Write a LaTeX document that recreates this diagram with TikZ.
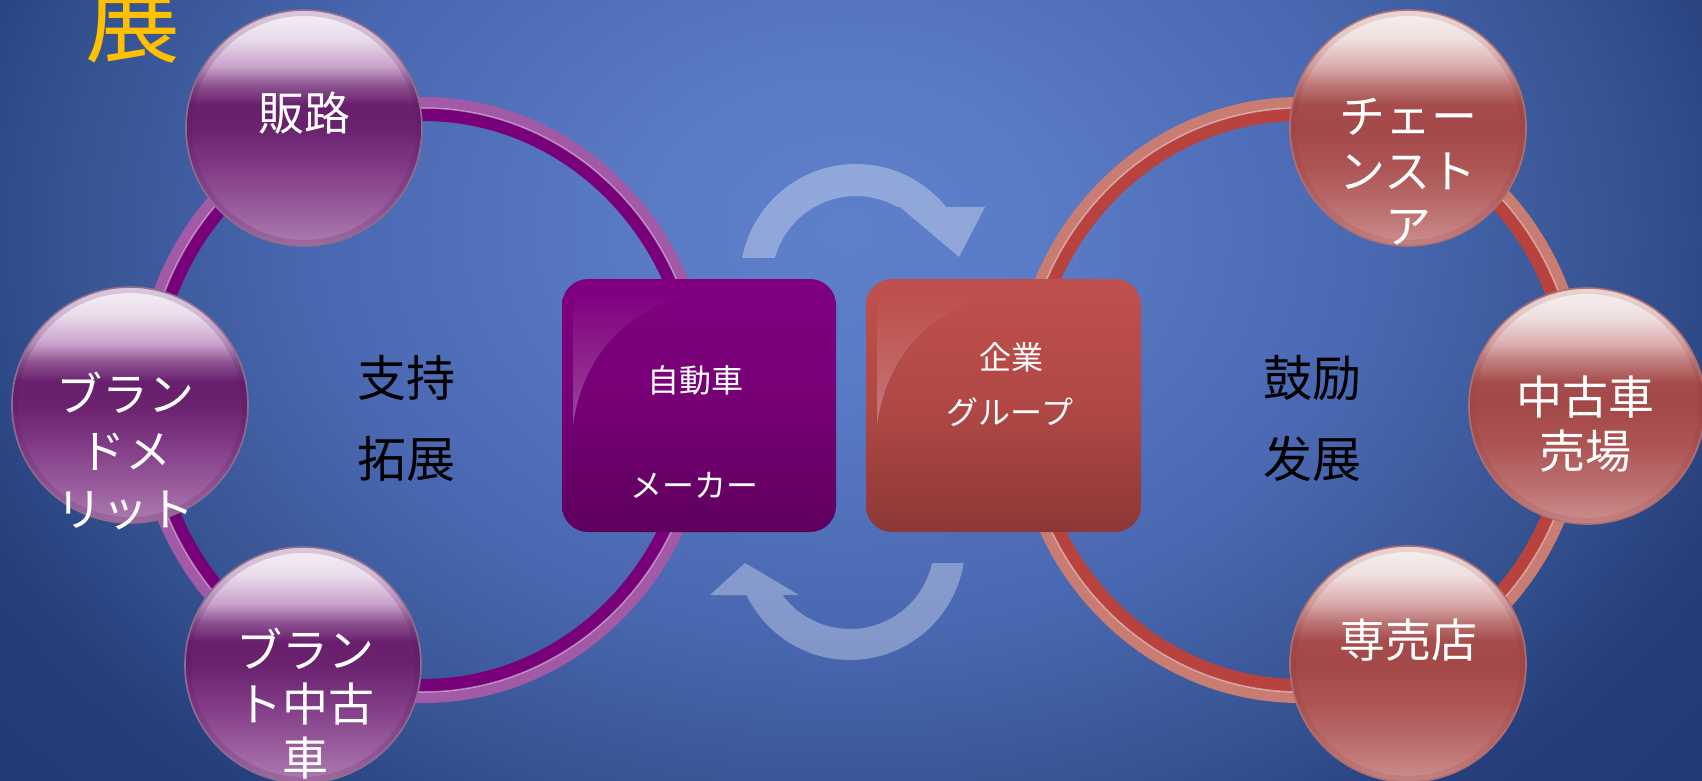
\documentclass[tikz,border=0pt]{standalone}
\usepackage{fontspec}
\newfontfamily\jp{Noto Sans CJK JP}
\usetikzlibrary{fadings}
\definecolor{ringPL}{HTML}{A35AA6}
\definecolor{ringPD}{HTML}{780078}
\definecolor{ringRL}{HTML}{C97C72}
\definecolor{ringRD}{HTML}{B8423E}
\definecolor{pbB}{HTML}{5C1460}
\definecolor{pbE}{HTML}{8C6E8E}
\definecolor{rbB}{HTML}{8E3636}
\definecolor{rbE}{HTML}{B07070}
\definecolor{pxA}{HTML}{800080}
\definecolor{pxB}{HTML}{760076}
\definecolor{pxC}{HTML}{5E005E}
\definecolor{rxA}{HTML}{C0504D}
\definecolor{rxB}{HTML}{B04845}
\definecolor{rxC}{HTML}{8C3836}
\definecolor{gold}{HTML}{FFC000}
% background: the inner 25bp radius maps to the path's bounding box edge
\pgfdeclareradialshading{bgrad}{\pgfpoint{0bp}{0bp}}{%
  color(0bp)=(rgb,255:red,94;green,128;blue,203);
  color(5bp)=(rgb,255:red,90;green,123;blue,198);
  color(14bp)=(rgb,255:red,74;green,104;blue,177);
  color(21bp)=(rgb,255:red,52;green,81;blue,143);
  color(25bp)=(rgb,255:red,38;green,62;blue,124);
  color(36bp)=(rgb,255:red,30;green,52;blue,112);
  color(50bp)=(rgb,255:red,30;green,52;blue,112)}
% balls: 25bp = bottom edge, 75bp = top edge
\pgfdeclareverticalshading{pballsh}{100bp}{%
  color(0bp)=(rgb,255:red,172;green,126;blue,174);
  color(25bp)=(rgb,255:red,172;green,126;blue,174);
  color(32bp)=(rgb,255:red,156;green,96;blue,160);
  color(42bp)=(rgb,255:red,128;green,58;blue,132);
  color(50bp)=(rgb,255:red,106;green,34;blue,110);
  color(55bp)=(rgb,255:red,104;green,32;blue,108);
  color(59bp)=(rgb,255:red,140;green,82;blue,144);
  color(63bp)=(rgb,255:red,200;green,162;blue,202);
  color(69bp)=(rgb,255:red,234;green,220;blue,236);
  color(75bp)=(rgb,255:red,246;green,240;blue,246);
  color(100bp)=(rgb,255:red,246;green,240;blue,246)}
\pgfdeclareverticalshading{rballsh}{100bp}{%
  color(0bp)=(rgb,255:red,204;green,144;blue,144);
  color(25bp)=(rgb,255:red,204;green,144;blue,144);
  color(32bp)=(rgb,255:red,190;green,114;blue,114);
  color(42bp)=(rgb,255:red,172;green,84;blue,84);
  color(50bp)=(rgb,255:red,164;green,72;blue,72);
  color(55bp)=(rgb,255:red,166;green,76;blue,76);
  color(59bp)=(rgb,255:red,188;green,118;blue,118);
  color(63bp)=(rgb,255:red,218;green,172;blue,172);
  color(69bp)=(rgb,255:red,240;green,224;blue,224);
  color(75bp)=(rgb,255:red,248;green,240;blue,240);
  color(100bp)=(rgb,255:red,248;green,240;blue,240)}
\tikzset{
  every node/.style={inner sep=0pt, outer sep=0pt},
  balltxt/.style={text=white, font=\jp\fontsize{46}{55}\selectfont, align=center},
  boxtxt/.style={text=white, font=\jp\fontsize{32}{38}\selectfont},
  sidetxt/.style={text=black, font=\jp\fontsize{49}{58}\selectfont},
  arrowfill/.style={fill=white, fill opacity=0.32},
  pball/.pic={
    \path[shading=pballsh] (0,0) circle[radius=118pt];
    \draw[pbB, line width=6pt, opacity=0.18] (0,0) circle[radius=115pt];
    \draw[pbE, line width=1.6pt] (0,0) circle[radius=118pt];
  },
  rball/.pic={
    \path[shading=rballsh] (0,0) circle[radius=118pt];
    \draw[rbB, line width=6pt, opacity=0.15] (0,0) circle[radius=115pt];
    \draw[rbE, line width=1.6pt] (0,0) circle[radius=118pt];
  },
}
\begin{document}
\begin{tikzpicture}[x=1pt,y=-1pt]
\useasboundingbox (0,0) rectangle (1702,781);
\clip (0,0) rectangle (1702,781);
% background
\path[shading=bgrad] (-104,-490) rectangle (1796,950);

% rings
\coordinate (lc) at (423,400);
\coordinate (rc) at (1300,400);
\draw[ringPL, line width=11pt] (lc) ellipse[x radius=283.5pt, y radius=297.5pt];
\draw[ringPD, line width=13pt] (lc) ellipse[x radius=271.5pt, y radius=285.5pt];
\draw[white, opacity=0.45, line width=1.5pt] (lc) ellipse[x radius=278pt, y radius=292pt];
\draw[ringRL, line width=11pt] (rc) ellipse[x radius=283.5pt, y radius=297.5pt];
\draw[ringRD, line width=13pt] (rc) ellipse[x radius=271.5pt, y radius=285.5pt];
\draw[white, opacity=0.45, line width=1.5pt] (rc) ellipse[x radius=278pt, y radius=292pt];

% cycle arrows
\coordinate (ctop) at (856,280);
\coordinate (cbot) at (850,545);
\fill[arrowfill] ([shift={(169:116pt)}]ctop) arc[start angle=169, end angle=39, radius=116pt]
  -- (985,207) -- (959,257) -- (900,207)
  -- ([shift={(60.3:84pt)}]ctop) arc[start angle=60.3, end angle=164.8, radius=84pt] -- cycle;
\fill[arrowfill] ([shift={(-9:115pt)}]cbot) arc[start angle=-9, end angle=-154.2, radius=115pt]
  -- (710,595) -- (745,563) -- (799,595)
  -- ([shift={(-143.5:84pt)}]cbot) arc[start angle=-143.5, end angle=-12.4, radius=84pt] -- cycle;

% boxes
\shade[rounded corners=26pt, top color=pxA, bottom color=pxC, middle color=pxB] (562,279) rectangle (836,532);
\fill[white, fill opacity=0.28, path fading=north] (573,425) -- (573,312) .. controls (573,299) and (580,292) .. (594,292) -- (708,292) .. controls (640,300) and (584,345) .. (573,425) -- cycle;
\shade[rounded corners=26pt, top color=rxA, bottom color=rxC, middle color=rxB] (866,279) rectangle (1141,532);
\fill[white, fill opacity=0.28, path fading=north] (877,425) -- (877,312) .. controls (877,299) and (884,292) .. (898,292) -- (1012,292) .. controls (944,300) and (888,345) .. (877,425) -- cycle;
\node[boxtxt] (b1a) at (695,380) {自動車};
\node[boxtxt] (b1b) at (694,485) {メーカー};
\node[boxtxt] (b2a) at (1011,357) {企業};
\node[boxtxt] (b2b) at (1010,412) {グループ};

% balls
\pic at (304,128) {pball};
\pic at (130,405) {pball};
\pic at (303,665) {pball};
\pic at (1408,128) {rball};
\pic at (1587,406) {rball};
\pic at (1408,664) {rball};

\node[balltxt] (t1) at (304,113) {販路};
\node[balltxt, font=\jp\fontsize{46}{57.5}\selectfont] (t2) at (125,451) {ブラン\\ドメ\\リット};
\node[balltxt, font=\jp\fontsize{46}{54}\selectfont] (t3) at (305,704) {ブラン\\ト中古\\車};
\node[balltxt] (t4) at (1408,172) {チェー\\ンスト\\ア};
\node[balltxt, font=\jp\fontsize{46}{54}\selectfont] (t5) at (1585,424) {中古車\\売場};
\node[balltxt] (t6) at (1408,640) {専売店};

% side texts
\node[sidetxt] (s1) at (406,378) {支持};
\node[sidetxt] (s2) at (406,459) {拓展};
\node[sidetxt] (s3) at (1312,378) {鼓励};
\node[sidetxt] (s4) at (1312,459) {发展};

% title fragment (cut off at the top edge, as in the reference)
\node[text=gold, font=\jp\fontsize{95}{100}\selectfont] (ttl) at (133,22) {展};
\end{tikzpicture}
\end{document}
